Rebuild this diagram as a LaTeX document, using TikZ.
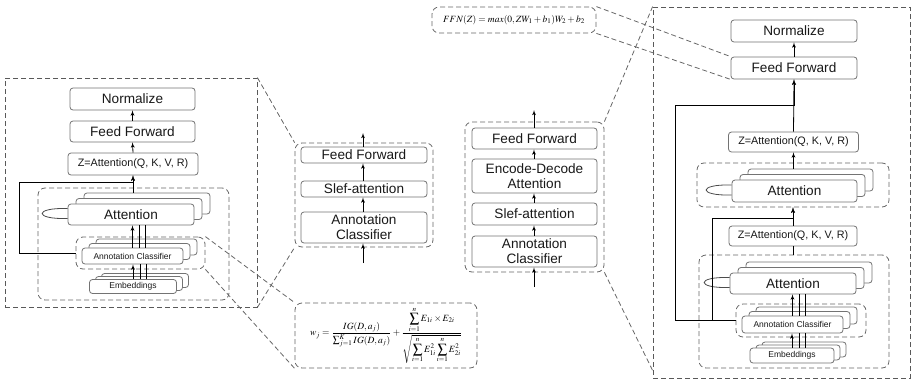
\documentclass[tikz,border=0pt]{standalone}
\usepackage{amsmath}
\usepackage{mathptmx}
\usepackage[no-math]{fontspec}
\setmainfont{Liberation Sans}
\usepackage{tikz}
\usetikzlibrary{calc,arrows,positioning}
\tikzset{>=latex'}
\tikzstyle{block}=[
	 rectangle, draw=black!55, fill=white,
	 rounded corners=3pt, inner sep=0pt,
	 align=center, text=black!90,
	 font=\fontsize{13.6}{15}\selectfont
    ]
\tikzstyle{tinyblock}=[block, font=\fontsize{8.5}{10}\selectfont]
\tikzstyle{zbox}=[block, font=\fontsize{10.8}{12}\selectfont]
\tikzstyle{group}=[draw=black!60, dash pattern=on 5pt off 3pt, rounded corners=7pt, inner sep=0pt]
\tikzstyle{panel}=[draw=black!65, dash pattern=on 5pt off 3pt, inner sep=0pt]
\tikzstyle{zoomline}=[draw=black!60, dash pattern=on 5pt off 3pt]
\tikzstyle{link}=[draw=black, line width=0.9pt]
\newcommand{\layerstack}[7]{%
  \node[#6] (#1c) at (#2+2*#4,#3-2*#5) {\phantom{#7}};
  \node[#6] (#1b) at (#2+#4,#3-#5) {\phantom{#7}};
  \node[#6] (#1) at (#2,#3) {#7};}
\newcommand{\loopback}[1]{\draw[black!70] ($(#1.west)+(0,-6)$) .. controls +(-34,-1) and +(-34,1) .. ($(#1.west)+(0,4)$)}
\newcommand{\triplink}[2]{%
  \draw[->] (#1.north) -- (#1.north |- #2.south);
  \draw ([xshift=7pt]#1.north) -- ([xshift=7pt]#1.north |- #2.south);
  \draw ([xshift=13pt]#1.north) -- ([xshift=13pt]#1.north |- #2.south);}

\begin{document}
\begin{tikzpicture}[x=1pt,y=-1pt,line width=0.8pt]
\useasboundingbox (0,0) rectangle (912,380);

\node[panel, minimum width=252, minimum height=229] (panel1) at (131,192.5) {};

\node[block, minimum width=125, minimum height=22] (norm1) at (132.5,99) {Normalize};
\node[block, minimum width=125, minimum height=21] (ff1) at (132.5,131.5) {Feed Forward};
\node[zbox, minimum width=130, minimum height=22] (z1) at (133,164) {Z=Attention(Q, K, V, R)};

\node[group, minimum width=191, minimum height=112] (attgrp1) at (133.5,244) {};
\layerstack{att1}{131}{214.5}{8}{5.5}{block, minimum width=126, minimum height=21}{Attention}
\loopback{att1};
\node[group, minimum width=129, minimum height=32] (acgrp1) at (140.5,253) {};
\layerstack{ac1}{132.5}{256}{7}{4.5}{tinyblock, minimum width=101, minimum height=16}{Annotation Classifier}
\layerstack{emb1}{133}{286.5}{6}{3}{tinyblock, minimum width=87, minimum height=14}{Embeddings}

\triplink{emb1}{ac1}
\triplink{ac1}{att1}
\draw[->] (ff1.north) -- (norm1.south);
\draw[->] (z1.north) -- (ff1.south);
\draw[->] (z1.south |- att1c.north) -- (z1.south);
\coordinate (fb1) at (19,182);
\draw[link,->] (acgrp1.west) -| (fb1) -| (z1.south);

\node[group, minimum width=138, minimum height=104] (enc) at (364,195) {};
\node[block, minimum width=126, minimum height=16] (encff) at (364,155) {Feed Forward};
\node[block, minimum width=126, minimum height=16] (encsa) at (364,189) {Slef-attention};
\node[block, minimum width=126, minimum height=31] (encac) at (364,227.5) {Annotation\\Classifier};
\coordinate (encin) at (363,263);
\coordinate (encout) at (363,133);
\draw[->] (encin) -- (encin |- encac.south);
\draw[->] (encin |- encac.north) -- (encin |- encsa.south);
\draw[->] (encin |- encsa.north) -- (encin |- encff.south);
\draw[->] (encin |- encff.north) -- (encout);

\draw[zoomline] (panel1.north east) -- (enc.north west);
\draw[zoomline] (panel1.south east) -- (enc.south west);

\node[group, minimum width=182, minimum height=65, font=\fontsize{9.5}{11}\selectfont] (wbox) at (386,335.5)
  {$\displaystyle w_j=\frac{IG(D,a_j)}{\sum_{j=1}^{K} IG(D,a_j)}+\frac{\displaystyle\sum_{i=1}^{n}E_{1i}\times E_{2i}}{\displaystyle\sqrt{\sum_{i=1}^{n}E^2_{1i}\sum_{i=1}^{n}E^2_{2i}}}$};
\draw[zoomline] (acgrp1.north east) -- (wbox.north west);
\draw[zoomline] (acgrp1.south east) -- (wbox.south west);

\node[group, minimum width=139, minimum height=150] (dec) at (534.5,197) {};
\node[block, minimum width=125, minimum height=21] (decff) at (534.5,138.5) {Feed Forward};
\node[block, minimum width=125, minimum height=34] (deced) at (534.5,176) {Encode-Decode\\Attention};
\node[block, minimum width=125, minimum height=22] (decsa) at (534.5,214) {Slef-attention};
\node[block, minimum width=125, minimum height=31] (decac) at (534.5,251.5) {Annotation\\Classifier};
\coordinate (decin) at (534,287);
\coordinate (decout) at (534,110);
\draw[->] (decin) -- (decin |- decac.south);
\draw[->] (decin |- decac.north) -- (decin |- decsa.south);
\draw[->] (decin |- decsa.north) -- (decin |- deced.south);
\draw[->] (decin |- deced.north) -- (decin |- decff.south);
\draw[->] (decin |- decff.north) -- (decout);

\node[group, minimum width=164, minimum height=26, font=\fontsize{9.5}{11}\selectfont] (ffnbox) at (514,20)
  {$FFN(Z)=max(0,ZW_1+b_1)W_2+b_2$};

\node[panel, minimum width=257, minimum height=371] (panel2) at (781.5,192.5) {};
\draw[zoomline] (dec.north east) -- (panel2.north west);
\draw[zoomline] (dec.south east) -- ($(panel2.south west)+(0,-8)$);

\node[block, minimum width=126, minimum height=22] (norm2) at (794,31) {Normalize};
\node[block, minimum width=126, minimum height=22] (ff2) at (794,68) {Feed Forward};
\node[zbox, minimum width=130, minimum height=20] (z2) at (793.5,142) {Z=Attention(Q, K, V, R)};
\draw[zoomline] (ffnbox.north east) -- (ff2.north west);
\draw[zoomline] (ffnbox.south east) -- (ff2.south west);

\node[group, minimum width=192, minimum height=44] (attgrp2) at (793,185) {};
\layerstack{att2}{794.5}{191}{8}{5.5}{block, minimum width=125, minimum height=22}{Attention}
\loopback{att2};

\node[zbox, minimum width=128, minimum height=20] (z3) at (793,236) {Z=Attention(Q, K, V, R)};

\node[group, minimum width=190, minimum height=113] (attgrp3) at (794,311.5) {};
\layerstack{att3}{793}{283.5}{8}{5.5}{block, minimum width=126, minimum height=21}{Attention}
\loopback{att3};
\node[group, minimum width=130, minimum height=33] (acgrp3) at (801,320.5) {};
\layerstack{ac3}{792.5}{324.5}{7}{4.5}{tinyblock, minimum width=101, minimum height=17}{Annotation Classifier}
\layerstack{emb3}{792}{355.5}{6}{3}{tinyblock, minimum width=84, minimum height=15}{Embeddings}

\triplink{emb3}{ac3}
\triplink{ac3}{att3}
\draw[->] (ff2.north) -- (norm2.south);
\draw[->] (z2.north) -- (ff2.south);
\draw[->] (z2.south |- att2c.north) -- (z2.south);
\draw[->] (z3.north) -- (z3.north |- attgrp2.south);
\draw (z3.south) -- (z3.south |- attgrp3.north);
\coordinate (fb2) at (675,105);
\coordinate (fb3) at (712,218);
\draw[link,->] (acgrp3.west) -| (fb2) -| (ff2.south);
\draw[link,->] (fb3 |- acgrp3.west) -- (fb3) -| (z3.north |- attgrp2.south);

\end{tikzpicture}
\end{document}
